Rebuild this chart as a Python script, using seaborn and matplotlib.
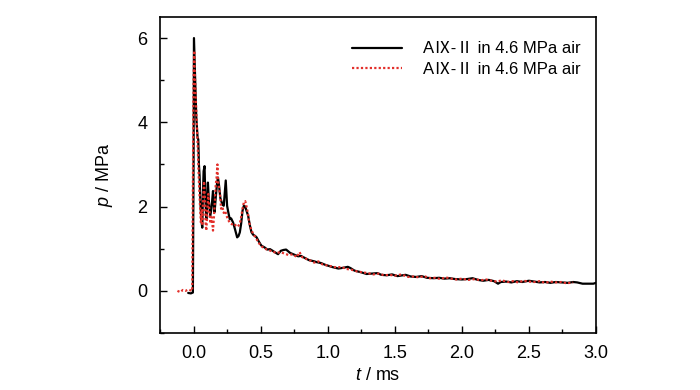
import matplotlib
matplotlib.use("Agg")
import matplotlib.pyplot as plt
import seaborn as sns
import pandas as pd
from matplotlib.ticker import MultipleLocator

t_black = [-0.04, -0.02, -0.005, 0.0, 0.003, 0.01, 0.02, 0.025, 0.03, 0.035, 0.04, 0.045,
           0.05, 0.057, 0.065, 0.07, 0.075, 0.082, 0.088, 0.095, 0.1, 0.107, 0.115, 0.125,
           0.135, 0.145, 0.15, 0.157, 0.165, 0.175, 0.182, 0.19, 0.2, 0.207, 0.215, 0.225,
           0.232, 0.24, 0.245, 0.25, 0.26, 0.27, 0.28, 0.295, 0.31, 0.325, 0.335, 0.345,
           0.355, 0.365, 0.375, 0.385, 0.395, 0.407, 0.42, 0.432, 0.445, 0.46, 0.47, 0.485,
           0.5, 0.507, 0.53, 0.55, 0.57, 0.6, 0.63, 0.65, 0.67, 0.69, 0.72, 0.75, 0.78, 0.8,
           0.83, 0.86, 0.9, 0.92, 0.95, 0.98, 1.0, 1.04, 1.08, 1.12, 1.15, 1.17, 1.2, 1.25,
           1.29, 1.33, 1.37, 1.4, 1.44, 1.48, 1.52, 1.54, 1.58, 1.62, 1.66, 1.7, 1.74, 1.79,
           1.83, 1.87, 1.91, 1.95, 2.0, 2.04, 2.08, 2.12, 2.16, 2.2, 2.24, 2.27, 2.29, 2.33,
           2.37, 2.41, 2.45, 2.5, 2.54, 2.58, 2.62, 2.66, 2.7, 2.74, 2.79, 2.83, 2.86, 2.9,
           2.94, 2.98, 3.0]
p_black = [-0.05, -0.06, -0.04, 3.0, 6.0, 5.2, 4.14, 3.9, 3.63, 3.6, 3.0, 2.73,
           2.2, 1.70, 1.5, 2.3, 2.84, 2.96, 2.2, 1.7, 2.0, 2.57, 2.1, 1.78,
           2.0, 2.37, 2.1, 1.87, 2.2, 2.55, 2.69, 2.5, 2.2, 2.13, 2.05, 2.02,
           2.3, 2.62, 2.3, 2.02, 1.85, 1.70, 1.72, 1.62, 1.45, 1.27, 1.3, 1.39,
           1.6, 1.9, 2.02, 2.0, 1.9, 1.78, 1.55, 1.39, 1.33, 1.3, 1.27, 1.18,
           1.1, 1.07, 1.03, 0.98, 0.99, 0.93, 0.87, 0.95, 0.97, 0.98, 0.9, 0.86, 0.82, 0.83,
           0.78, 0.73, 0.70, 0.68, 0.66, 0.62, 0.60, 0.56, 0.53, 0.55, 0.57, 0.54, 0.48, 0.44,
           0.40, 0.41, 0.42, 0.38, 0.37, 0.39, 0.35, 0.36, 0.38, 0.34, 0.33, 0.35, 0.31, 0.30,
           0.31, 0.29, 0.30, 0.28, 0.27, 0.28, 0.30, 0.26, 0.24, 0.26, 0.23, 0.17, 0.21, 0.22,
           0.20, 0.23, 0.21, 0.24, 0.22, 0.20, 0.21, 0.19, 0.21, 0.20, 0.19, 0.21, 0.20, 0.17,
           0.17, 0.17, 0.19]

t_red = [-0.12, -0.10, -0.08, -0.06, -0.04, -0.02, -0.01, -0.005, 0.0, 0.005, 0.01, 0.015,
         0.02, 0.03, 0.04, 0.05, 0.055, 0.06, 0.065, 0.07, 0.078, 0.085, 0.09, 0.095, 0.1,
         0.11, 0.118, 0.125, 0.135, 0.145, 0.155, 0.165, 0.172, 0.178, 0.182, 0.19, 0.2,
         0.205, 0.215, 0.225, 0.235, 0.245, 0.255, 0.27, 0.285, 0.3, 0.315, 0.33, 0.345,
         0.355, 0.365, 0.375, 0.385, 0.395, 0.405, 0.415, 0.43, 0.445, 0.46, 0.475, 0.49,
         0.51, 0.53, 0.56, 0.59, 0.62, 0.65, 0.68, 0.71, 0.74, 0.77, 0.79, 0.81, 0.84, 0.87,
         0.9, 0.93, 0.96, 1.0, 1.03, 1.07, 1.1, 1.14, 1.18, 1.22, 1.26, 1.3, 1.34, 1.38,
         1.42, 1.46, 1.5, 1.55, 1.6, 1.64, 1.68, 1.72, 1.76, 1.8, 1.84, 1.88, 1.92, 1.96,
         2.0, 2.05, 2.1, 2.14, 2.18, 2.22, 2.26, 2.3, 2.34, 2.38, 2.42, 2.46, 2.5, 2.54,
         2.58, 2.62, 2.66, 2.7, 2.74, 2.78, 2.83]
p_red = [0.0, -0.03, 0.02, 0.0, 0.03, 0.01, 0.0, 2.5, 5.0, 5.7, 5.1, 4.7,
         4.3, 3.5, 2.6, 1.9, 1.6, 1.9, 1.55, 2.1, 2.6, 2.2, 1.6, 1.43, 1.7,
         2.3, 1.9, 1.6, 1.75, 1.43, 1.9, 2.5, 2.7, 3.0, 2.6, 2.45, 2.2,
         1.95, 2.0, 1.85, 1.9, 1.8, 1.7, 1.62, 1.58, 1.6, 1.55, 1.52, 1.6,
         1.75, 1.95, 2.1, 2.13, 2.0, 1.85, 1.62, 1.45, 1.35, 1.28, 1.2, 1.12,
         1.05, 1.0, 0.97, 0.93, 0.90, 0.92, 0.88, 0.85, 0.87, 0.80, 0.92, 0.80, 0.76, 0.72,
         0.67, 0.70, 0.63, 0.60, 0.58, 0.55, 0.57, 0.52, 0.50, 0.46, 0.44, 0.42, 0.39, 0.41,
         0.37, 0.38, 0.36, 0.39, 0.33, 0.34, 0.32, 0.35, 0.30, 0.31, 0.28, 0.32, 0.29, 0.27,
         0.29, 0.26, 0.28, 0.25, 0.27, 0.24, 0.22, 0.25, 0.21, 0.23, 0.20, 0.24, 0.22, 0.21,
         0.23, 0.19, 0.22, 0.20, 0.21, 0.18, 0.20]

label = "A\u2168-\u2161 in 4.6 MPa air"

sns.set_theme(style="ticks")
plt.rcParams["font.family"] = ["Liberation Sans", "Noto Sans CJK SC", "DejaVu Sans"]
plt.rcParams["mathtext.fontset"] = "custom"
plt.rcParams["mathtext.it"] = "Liberation Sans:italic"
plt.rcParams["mathtext.rm"] = "Liberation Sans"
plt.rcParams.update({"text.color": "black", "axes.labelcolor": "black",
                     "xtick.color": "black", "ytick.color": "black",
                     "axes.edgecolor": "black"})

df_black = pd.DataFrame({"t": t_black, "p": p_black})
df_red = pd.DataFrame({"t": t_red, "p": p_red})

fig = plt.figure(figsize=(7, 3.9), dpi=100)
ax = fig.add_axes([0.2286, 0.1462, 0.6228, 0.8102])

sns.lineplot(data=df_black, x="t", y="p", sort=False, estimator=None, color="black",
             linewidth=1.6, label=label, ax=ax)
sns.lineplot(data=df_red, x="t", y="p", sort=False, estimator=None, color="#e3302b",
             linewidth=1.6, linestyle=(0, (1, 1)), label=label, ax=ax)

ax.set_xlim(-0.25, 3.0)
ax.set_ylim(-1, 6.5)
ax.xaxis.set_major_locator(MultipleLocator(0.5))
ax.xaxis.set_minor_locator(MultipleLocator(0.25))
ax.yaxis.set_major_locator(MultipleLocator(2))
ax.yaxis.set_minor_locator(MultipleLocator(1))
ax.xaxis.set_major_formatter(plt.FuncFormatter(lambda v, _: f"{v:.1f}"))
ax.tick_params(which="both", direction="in", top=False, right=False, labelsize=13,
               color="black", labelcolor="black", width=1.0)
ax.tick_params(which="major", length=5, pad=9)
ax.tick_params(which="minor", length=3)
for s in ax.spines.values():
    s.set_linewidth(1.2)
    s.set_color("black")

ax.set_xlabel("$\\it{t}$ / ms", fontsize=13, labelpad=3)
ax.set_ylabel("$\\it{p}$ / MPa", fontsize=13, labelpad=16)

leg = ax.legend(loc="upper right", frameon=False, fontsize=12, handlelength=3.0,
                handletextpad=1.3, bbox_to_anchor=(1.0, 0.97), labelspacing=0.35)
for txt in leg.get_texts():
    txt.set_color("black")

fig.savefig("out.png", dpi=100)
